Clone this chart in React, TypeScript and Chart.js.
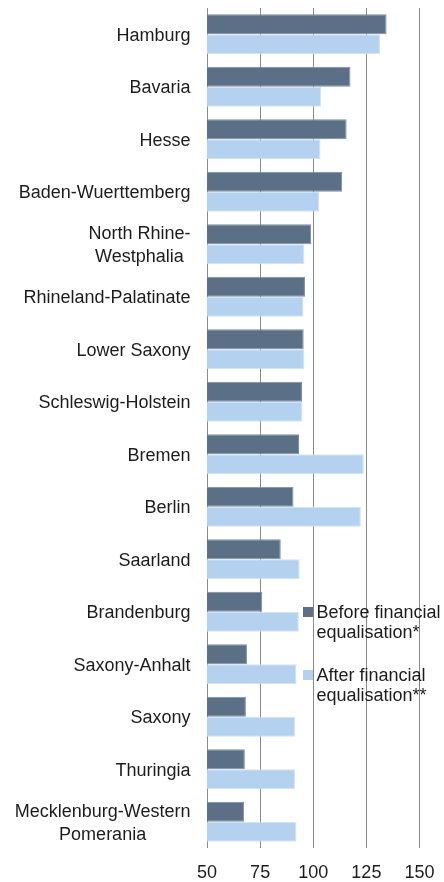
import React, { useEffect, useRef } from "react";
import { Chart, registerables } from "chart.js";

Chart.register(...registerables);

const states: (string | string[])[] = [
  "Hamburg",
  "Bavaria",
  "Hesse",
  "Baden-Wuerttemberg",
  ["North Rhine-", "Westphalia"],
  "Rhineland-Palatinate",
  "Lower Saxony",
  "Schleswig-Holstein",
  "Bremen",
  "Berlin",
  "Saarland",
  "Brandenburg",
  "Saxony-Anhalt",
  "Saxony",
  "Thuringia",
  ["Mecklenburg-Western", "Pomerania"],
];

const beforeValues = [134.5, 117.5, 115.7, 113.6, 99.0, 96.1, 95.5, 94.7, 93.3, 90.7, 84.7, 76.0, 68.8, 68.3, 67.8, 67.5];
const afterValues = [131.4, 103.7, 103.4, 102.7, 95.8, 95.4, 95.8, 94.9, 123.8, 122.4, 93.6, 93.2, 92.1, 91.4, 91.4, 92.1];

const xMin = 50;
const xMax = 150;
const xStep = 25;

const legendLabels = [
  ["Before financial", "equalisation*"],
  ["After financial", "equalisation**"],
];

const DARK = "#5b7086";
const LIGHT = "#b4d2ef";
const TEXT = "#1c1c1c";
const GRID = "#8a8a8a";
const FONT = '"Liberation Sans", Arial, sans-serif';

const labelPlugin = {
  id: "customLabels",
  afterDraw(chart: any) {
    const ctx = chart.ctx;
    const yScale = chart.scales.y;
    const area = chart.chartArea;
    ctx.save();
    ctx.font = `18px ${FONT}`;
    ctx.fillStyle = TEXT;
    ctx.textBaseline = "middle";
    const right = area.left - 16.5;
    (chart.data.labels as (string | string[])[]).forEach((lab, i) => {
      const cy = yScale.getPixelForValue(i) + 1.5;
      if (Array.isArray(lab)) {
        const w = Math.max(...lab.map((l) => ctx.measureText(l).width));
        const cx = right - w / 2;
        ctx.textAlign = "center";
        const lh = 22.7;
        const start = cy - ((lab.length - 1) * lh) / 2;
        lab.forEach((l, k) => ctx.fillText(l, cx, start + k * lh));
      } else {
        ctx.textAlign = "right";
        ctx.fillText(lab, right, cy);
      }
    });

    // legend
    const colors = [DARK, LIGHT];
    const tops = [607, 670];
    ctx.textAlign = "left";
    legendLabels.forEach((lines, k) => {
      ctx.fillStyle = colors[k];
      ctx.fillRect(303, tops[k], 10, 10);
      ctx.fillStyle = TEXT;
      lines.forEach((l, j) => ctx.fillText(l, 316.5, tops[k] + 6 + j * 20));
    });
    ctx.restore();
  },
};

export default function App() {
  const ref = useRef<HTMLCanvasElement | null>(null);

  useEffect(() => {
    if (!ref.current) return;
    const chart = new Chart(ref.current, {
      type: "bar",
      data: {
        labels: states as any,
        datasets: [
          {
            label: legendLabels[0].join(" "),
            data: beforeValues,
            backgroundColor: DARK,
            borderColor: "#7d8ea0",
            borderWidth: 1,
            categoryPercentage: 0.762,
            barPercentage: 1,
          },
          {
            label: legendLabels[1].join(" "),
            data: afterValues,
            backgroundColor: LIGHT,
            borderColor: "#cfe2f6",
            borderWidth: 1,
            categoryPercentage: 0.762,
            barPercentage: 1,
          },
        ],
      },
      options: {
        indexAxis: "y",
        responsive: false,
        animation: false,
        devicePixelRatio: 1,
        layout: { padding: { left: 0, top: 8, right: 24.5, bottom: 0 } },
        plugins: {
          legend: { display: false },
          tooltip: { enabled: false },
        },
        scales: {
          x: {
            type: "linear",
            min: xMin,
            max: xMax,
            ticks: {
              stepSize: xStep,
              color: TEXT,
              font: { family: FONT, size: 18 },
              padding: 14,
              maxRotation: 0,
            },
            grid: { color: GRID, lineWidth: 1, drawTicks: false },
            border: { display: false },
            afterFit(scale: any) {
              scale.height = 34;
              scale.paddingLeft = 0;
              scale.paddingRight = 0;
            },
          },
          y: {
            type: "category",
            ticks: { display: false },
            grid: { display: false },
            border: { display: false },
            afterFit(scale: any) {
              scale.width = 207;
              scale.paddingTop = 0;
              scale.paddingBottom = 0;
            },
          },
        },
      },
      plugins: [labelPlugin],
    });
    return () => chart.destroy();
  }, []);

  return (
    <div style={{ position: "fixed", left: 0, top: 0, width: 444, height: 882, background: "#fff" }}>
      <canvas ref={ref} width={444} height={882} style={{ width: 444, height: 882, display: "block" }} />
    </div>
  );
}
